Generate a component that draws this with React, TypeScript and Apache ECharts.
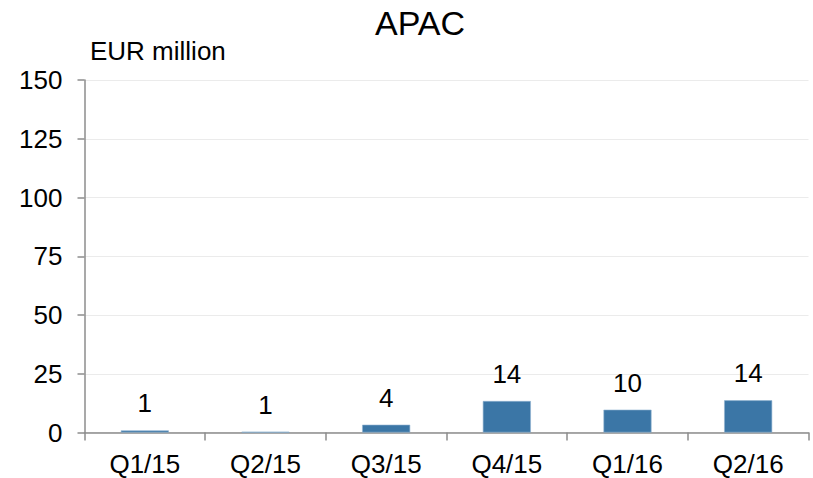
import React, { useEffect, useRef } from "react";
import * as echarts from "echarts";

const categories = ["Q1/15", "Q2/15", "Q3/15", "Q4/15", "Q1/16", "Q2/16"];
const values = [0.9, 0.3, 3.3, 13.4, 9.7, 13.7];
const valueLabels = ["1", "1", "4", "14", "10", "14"];
const chartTitle = "APAC";
const unitLabel = "EUR million";

const FONT = '"Liberation Sans", Arial, sans-serif';

export default function App() {
  const ref = useRef<HTMLDivElement>(null);
  useEffect(() => {
    if (!ref.current) return;
    const chart = echarts.init(ref.current, null, { renderer: "svg" });
    chart.setOption({
      animation: false,
      backgroundColor: "#ffffff",
      title: {
        text: chartTitle,
        left: 375,
        top: 6,
        padding: 0,
        textStyle: { fontFamily: FONT, fontSize: 34, fontWeight: "normal", color: "#000" },
      },
      graphic: [
        {
          type: "text",
          left: 90,
          top: 38,
          style: { text: unitLabel, font: `26px ${FONT}`, fill: "#000" },
        },
      ],
      grid: { left: 84.5, right: 4.5, top: 80, bottom: 45.5, containLabel: false },
      xAxis: {
        type: "category",
        data: categories,
        axisLine: { lineStyle: { color: "#8c8c8c", width: 1.5 } },
        axisTick: { show: true, length: 8, lineStyle: { color: "#8c8c8c", width: 1.5 } },
        axisLabel: { fontFamily: FONT, fontSize: 26, color: "#000", margin: 18 },
      },
      yAxis: {
        type: "value",
        min: 0,
        max: 150,
        interval: 25,
        axisLine: { show: true, lineStyle: { color: "#8c8c8c", width: 1.5 } },
        axisTick: { show: true, length: 7, lineStyle: { color: "#8c8c8c", width: 1.5 } },
        axisLabel: { fontFamily: FONT, fontSize: 26, color: "#000", margin: 22 },
        splitLine: { show: true, lineStyle: { color: "#ebebeb", width: 1 } },
      },
      series: [
        {
          type: "bar",
          data: values,
          barWidth: 48,
          itemStyle: { color: "#3b76a6", borderColor: "#8fb2d0", borderWidth: 0.6 },
          label: {
            show: true,
            position: "top",
            distance: 14,
            fontFamily: FONT,
            fontSize: 26,
            color: "#000",
            formatter: (p: any) => valueLabels[p.dataIndex],
          },
        },
      ],
    });
    return () => chart.dispose();
  }, []);
  return (
    <div
      ref={ref}
      style={{ position: "fixed", left: 0, top: 0, width: 813, height: 478 }}
    />
  );
}
